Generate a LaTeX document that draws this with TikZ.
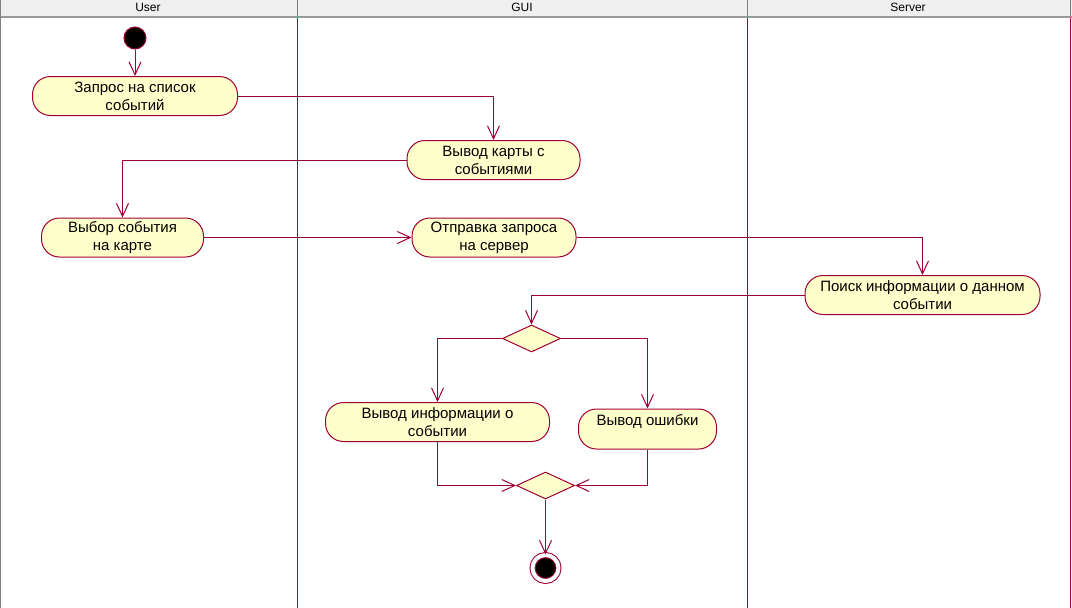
\documentclass[tikz,border=0pt]{standalone}
\usepackage{fontspec}
\setmainfont{Liberation Sans}
\definecolor{rose}{HTML}{9E0034}
\definecolor{pale}{HTML}{FFFFCC}
\definecolor{bar}{HTML}{F0F0F0}
\usetikzlibrary{shapes.geometric}
\usetikzlibrary{arrows.meta}
\tikzstyle{act} = [rectangle, rounded corners=18pt, draw=rose, fill=pale, align=center, inner sep=2pt, minimum height=39pt]
\tikzstyle{branch} = [diamond, draw=rose, fill=pale, minimum width=58pt, minimum height=27pt, inner sep=0pt]
\tikzstyle{initial} = [circle, draw=rose, fill=black, minimum size=22pt, inner sep=0pt]
\tikzstyle{final} = [circle, draw=rose, fill=black, double=white, double distance=4pt, minimum size=26pt, inner sep=0pt]
\tikzstyle{head} = [font=\fontsize{12}{14}\selectfont]
\tikzstyle{lane} = [rose]

\begin{document}
\begin{tikzpicture}[
  x=1pt, y=-1pt,
  every path/.style={line width=1pt},
  every node/.style={font=\fontsize{15}{18}\selectfont, text=black},
  flow/.style={rose, -{Straight Barb[length=13pt,width=12pt]}},
]
\useasboundingbox (0,0) rectangle (1072,608);
\fill [bar] (0,0) rectangle (1072,17);
\draw [gray!80, line width=2pt] (0,17) -- (1072,17);
\draw [gray] (0.5,0) -- (0.5,608);
\draw [gray] (297.5,0) -- (297.5,17);
\draw [gray] (747.5,0) -- (747.5,17);
\draw [gray] (1070.5,0) -- (1070.5,17);
\draw [lane] (297.5,18) -- (297.5,608);
\draw [lane] (747.5,18) -- (747.5,608);
\draw [lane] (1070.5,18) -- (1070.5,608);
\node [head] (user) at (148,7) {User};
\node [head] (gui) at (522,7) {GUI};
\node [head] (server) at (908,7) {Server};

\node (start) [initial] at (135,38) {};
\node (ask) [act, minimum width=205pt] at (135,96) {Запрос на список\\событий};
\node (map) [act, minimum width=173pt] at (493.5,160) {Вывод карты с\\событиями};
\node (pick) [act, minimum width=162pt] at (122.5,237.5) {Выбор события\\на карте};
\node (send) [act, minimum width=164pt] at (494,237.5) {Отправка запроса\\на сервер};
\node (search) [act, minimum width=235pt] at (922.5,295) {Поиск информации о данном\\событии};
\node (split) [branch] at (531.5,338.5) {};
\node (info) [act, minimum width=224pt] at (437.5,422) {Вывод информации о\\событии};
\node (fail) [act, minimum width=138pt, minimum height=40pt] at (647.5,429) {Вывод ошибки\\\mbox{}};
\node (join) [branch] at (545.5,485.5) {};
\node (stop) [final] at (545.5,568) {};

\draw [flow] (start) -- (ask);
\draw [flow] (ask) -| (map);
\draw [flow] (map) -| (pick);
\draw [flow] (pick) -- (send);
\draw [flow] (send) -| (search);
\draw [flow] (search) -| (split);
\draw [flow] (split) -| (info);
\draw [flow] (split) -| (fail);
\draw [flow] (info) |- (join);
\draw [flow] (fail) |- (join);
\draw [flow] (join) -- (stop);
\end{tikzpicture}
\end{document}
